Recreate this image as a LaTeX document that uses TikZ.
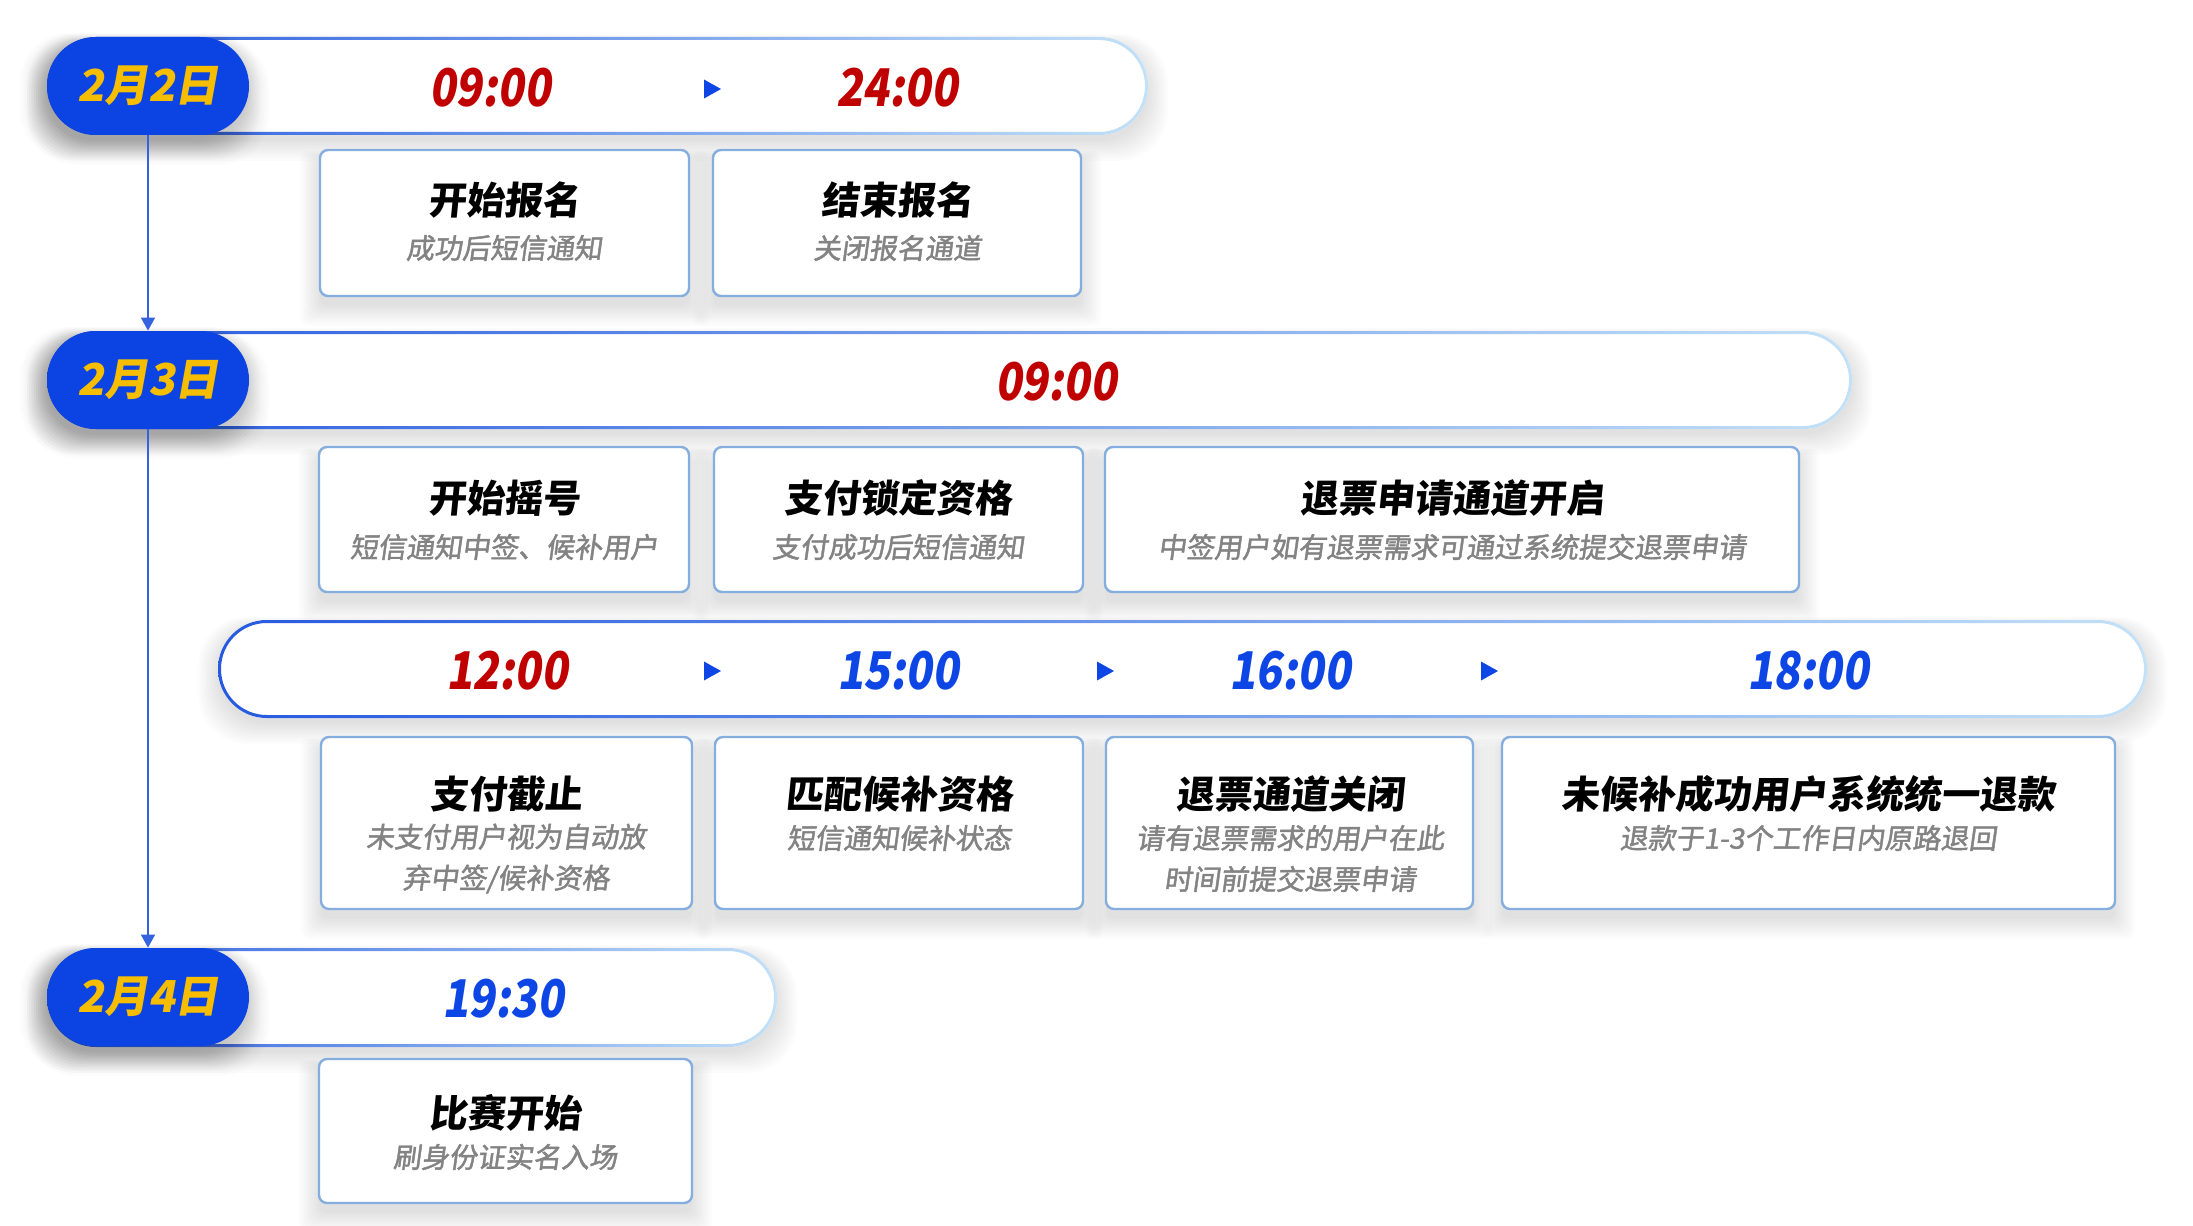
\documentclass[tikz,border=0pt]{standalone}
\usepackage{fontspec}
\usetikzlibrary{arrows.meta,fit}
\newfontfamily\cjk{Noto Sans CJK SC}[FakeSlant=0.1]
\newfontfamily\cjksl{Noto Sans CJK SC}[FakeSlant=0.18]
\newfontfamily\cjksub{Noto Sans CJK SC}[FakeSlant=0.14, FakeBold=1.6]
\definecolor{dateblue}{HTML}{0B44E3}
\definecolor{dateyel}{HTML}{F7BE00}
\definecolor{tred}{HTML}{C00000}
\definecolor{tblue}{HTML}{0D46E4}
\definecolor{ringL}{HTML}{2659DE}
\definecolor{ringR}{HTML}{C3E1F7}
\definecolor{boxline}{HTML}{85AEDF}
\definecolor{subgray}{HTML}{838383}
\definecolor{connblue}{HTML}{3563E0}
\tikzset{
  datepill/.style={fill=dateblue, rounded corners=24.4pt, minimum width=101pt, minimum height=49pt, inner sep=0pt,
    text=dateyel, font=\cjksl\bfseries\fontsize{22}{26}\selectfont},
  timered/.style={text=tred, font=\cjksl\bfseries\fontsize{26}{28}\selectfont, inner sep=0pt},
  timeblue/.style={text=tblue, font=\cjksl\bfseries\fontsize{26}{28}\selectfont, inner sep=0pt},
  card/.style={draw=boxline, line width=1.2pt, fill=white, rounded corners=4pt, inner sep=0pt},
  ttl/.style={font=\cjk\bfseries\fontsize{19}{22}\selectfont, text=black, inner sep=0pt},
  sub/.style={font=\cjksub\fontsize{14}{20.5}\selectfont, text=subgray, inner sep=0pt, align=center},
  conn/.style={draw=connblue, line width=0.75pt, -{Triangle[width=7pt,length=6.5pt]}},
  tri/.style={fill=tblue},
  shadowstep/.style={fill=black, opacity=0.010}
}
\newcommand\tm[1]{\scalebox{0.84}[1]{#1}}
% soft shadow: x1 y1 x2 y2 corner dy
\newcommand\softshadow[6]{%
  \foreach \k in {0,...,9}{%
    \fill[shadowstep, rounded corners=#5] (#1-\k*2.2, #2+#6-\k*1.0) rectangle (#3+\k*2.2, #4+#6+\k*2.2);
  }}
\newcommand\timepill[4]{%
  \softshadow{#1}{#2}{#3}{#4}{24.4pt}{6}
  \fill[white, rounded corners=24.4pt] (#1,#2) rectangle (#3,#4);
  \shade[left color=ringL, right color=ringR, even odd rule] [rounded corners=24.4pt] (#1,#2) rectangle (#3,#4)
     [rounded corners=22.9pt] (#1+3,#2+3) rectangle (#3-3,#4-3);
}
\newcommand\trimark[2]{\fill[tri] (#1-8,#2-9.5) -- (#1+9,#2) -- (#1-8,#2+9.5) -- cycle;}
\newcommand\cardbox[5]{%
  \softshadow{#2}{#3}{#4}{#5}{4pt}{10}
  \node[card, fit={(#2,#3) (#4,#5)}] (#1) {};}
\newcommand\datebox[3]{%
  \softshadow{#2-101}{#3-49}{#2+101}{#3+49}{24.4pt}{10}
  \softshadow{#2-108}{#3-49}{#2+92}{#3+49}{24.4pt}{5}
  \node[datepill] (#1) at (#2,#3) {};}
\begin{document}
\begin{tikzpicture}[x=0.5pt,y=-0.5pt]
\useasboundingbox (0,0) rectangle (2193,1225);
\fill[white] (0,0) rectangle (2193,1225);

% ---------- Row 1 : 2月2日 ----------
\timepill{47}{37}{1148}{135}
\datebox{d1}{148}{86}
\node[datepill, fill=none] (d1l) at (d1) {2月2日};
\node[timered] (t11) at (490,88) {\tm{09:00}};
\trimark{712}{89}
\node[timered] (t12) at (897,88) {\tm{24:00}};
\cardbox{b11}{320}{150}{689}{296}
\cardbox{b12}{713}{150}{1081}{296}
\node[ttl] (b11t) at (504,200) {开始报名};
\node[sub] (b11s) at (504,248) {成功后短信通知};
\node[ttl] (b12t) at (897,200) {结束报名};
\node[sub] (b12s) at (897,248) {关闭报名通道};

% ---------- Row 2 : 2月3日 ----------
\timepill{47}{331}{1852}{429}
\datebox{d2}{148}{380}
\node[datepill, fill=none] (d2l) at (d2) {2月3日};
\node[timered] (t21) at (1056,382) {\tm{09:00}};
\cardbox{b21}{319}{447}{689}{592}
\cardbox{b22}{714}{447}{1083}{592}
\cardbox{b23}{1105}{447}{1799}{592}
\node[ttl] (b21t) at (504,498) {开始摇号};
\node[sub] (b21s) at (504,547) {短信通知中签、候补用户};
\node[ttl] (b22t) at (898,498) {支付锁定资格};
\node[sub] (b22s) at (898,547) {支付成功后短信通知};
\node[ttl] (b23t) at (1452,498) {退票申请通道开启};
\node[sub] (b23s) at (1452,547) {中签用户如有退票需求可通过系统提交退票申请};

% ---------- Row 3 : times ----------
\timepill{218}{620}{2147}{718}
\node[timered] (t31) at (507,671) {\tm{12:00}};
\trimark{712}{671}
\node[timeblue] (t32) at (898,671) {\tm{15:00}};
\trimark{1105}{671}
\node[timeblue] (t33) at (1290,671) {\tm{16:00}};
\trimark{1489}{671}
\node[timeblue] (t34) at (1808,671) {\tm{18:00}};
\cardbox{b31}{321}{737}{692}{909}
\cardbox{b32}{715}{737}{1083}{909}
\cardbox{b33}{1106}{737}{1473}{909}
\cardbox{b34}{1502}{737}{2115}{909}
\node[ttl] (b31t) at (506,794) {支付截止};
\node[sub] (b31s) at (506,858.5) {未支付用户视为自动放\\弃中签/候补资格};
\node[ttl] (b32t) at (899,794) {匹配候补资格};
\node[sub] (b32s) at (899,838) {短信通知候补状态};
\node[ttl] (b33t) at (1290,794) {退票通道关闭};
\node[sub] (b33s) at (1290,858.5) {请有退票需求的用户在此\\时间前提交退票申请};
\node[ttl] (b34t) at (1808,794) {未候补成功用户系统统一退款};
\node[sub] (b34s) at (1808,838) {退款于1-3个工作日内原路退回};

% ---------- Row 4 : 2月4日 ----------
\timepill{47}{948}{777}{1047}
\datebox{d4}{148}{997}
\node[datepill, fill=none] (d4l) at (d4) {2月4日};
\node[timeblue] (t41) at (503,999) {\tm{19:30}};
\cardbox{b41}{319}{1059}{692}{1203}
\node[ttl] (b41t) at (505,1113) {比赛开始};
\node[sub] (b41s) at (505,1157) {刷身份证实名入场};

% ---------- connectors ----------
\draw[conn] (d1.south) -- (d2.north);
\draw[conn] (d2.south) -- (d4.north);
\end{tikzpicture}
\end{document}
